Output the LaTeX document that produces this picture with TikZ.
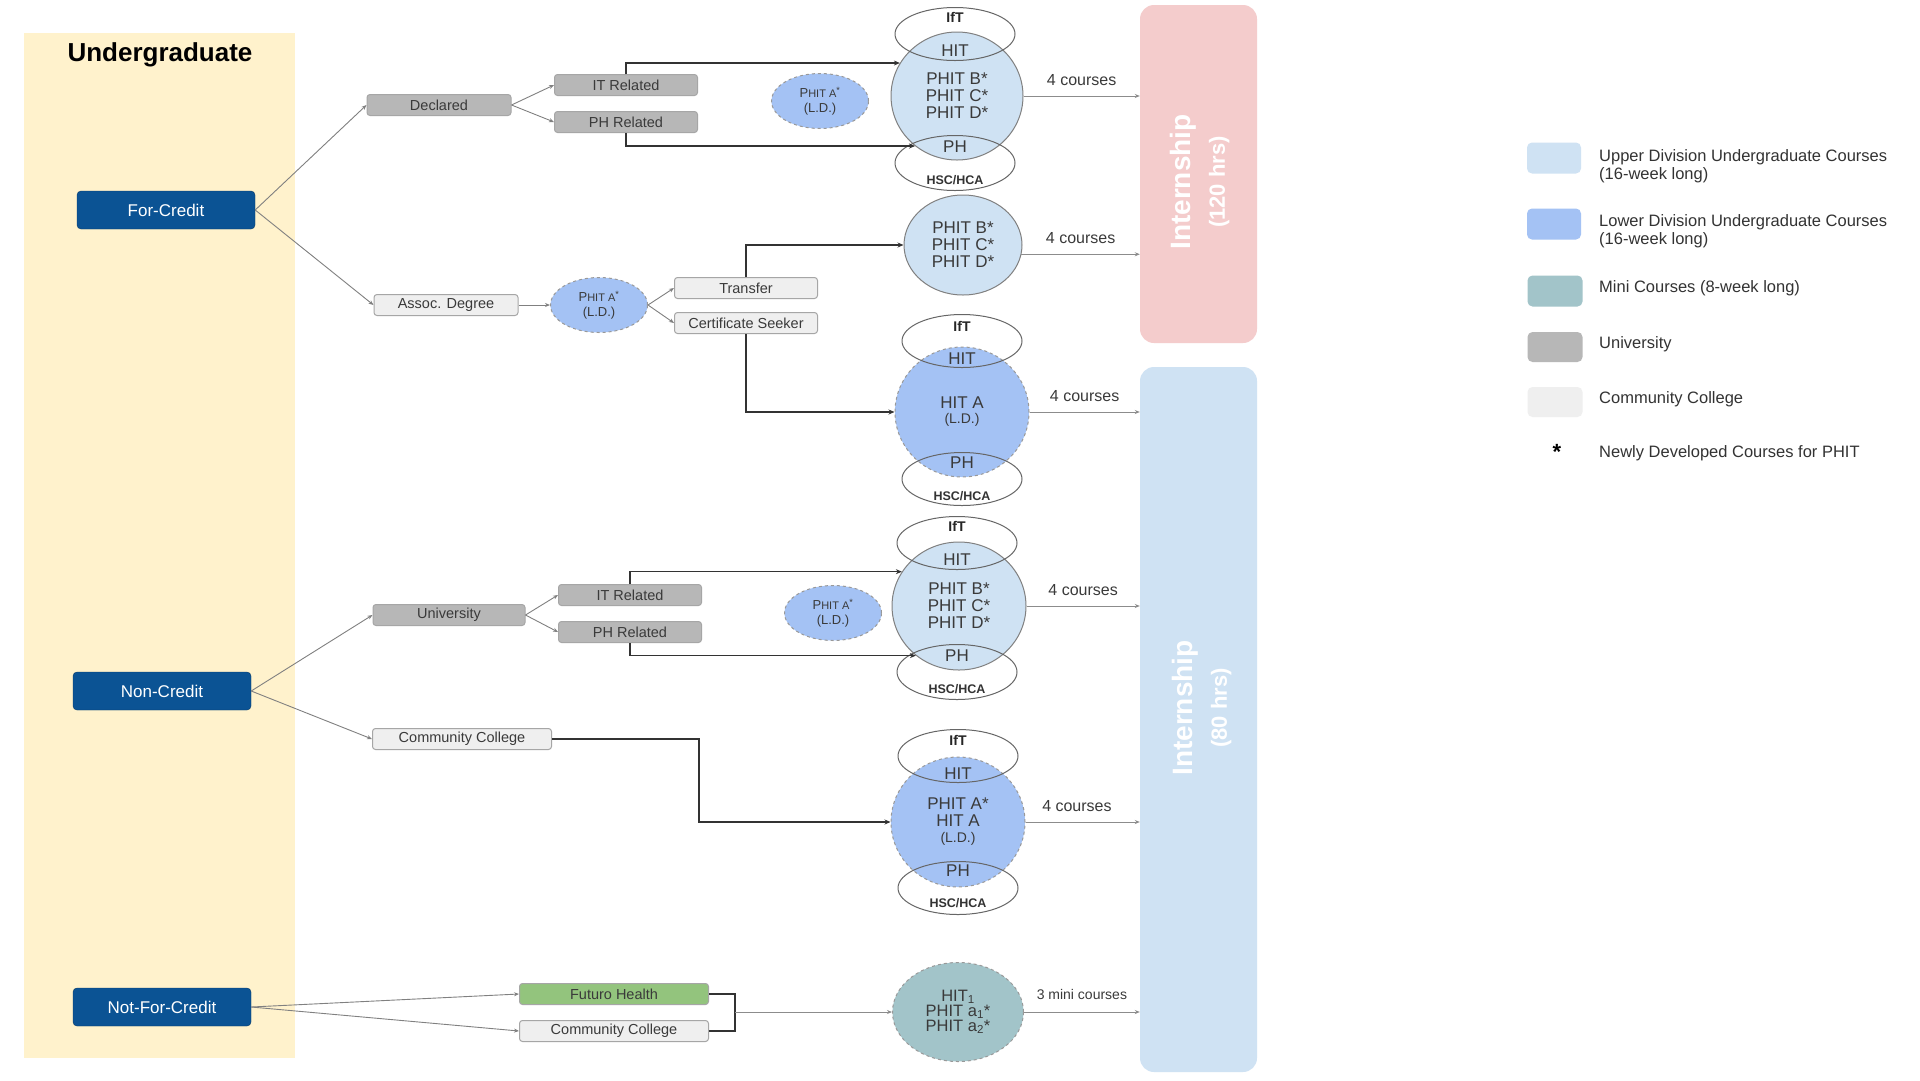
\documentclass[tikz,border=0pt]{standalone}
\usepackage{fontspec}
\setmainfont{Liberation Sans}
\usetikzlibrary{arrows.meta, shapes.geometric, positioning}

\definecolor{panelyellow}{HTML}{FFF2CC}
\definecolor{creditblue}{HTML}{0B5394}
\definecolor{unigray}{HTML}{B7B7B7}
\definecolor{ccgray}{HTML}{EFEFEF}
\definecolor{upperblue}{HTML}{CFE2F3}
\definecolor{lowerblue}{HTML}{A4C2F4}
\definecolor{miniteal}{HTML}{A2C4C9}
\definecolor{futurogreen}{HTML}{93C47D}
\definecolor{internpink}{HTML}{F4CCCC}
\definecolor{inktext}{HTML}{3A3A3A}

\newcommand{\pxfont}[1]{\fontsize{#1}{#1}\selectfont}

\tikzset{
  credit/.style={draw=creditblue!70!black, fill=creditblue, rounded corners=4pt, text=white,
    minimum width=178pt, minimum height=38pt, font=\pxfont{17}},
  track/.style={draw=black!35, line width=1pt, rounded corners=3pt, text=inktext,
    minimum height=21pt, font=\pxfont{14.5}},
  unibox/.style={track, fill=unigray},
  ccbox/.style={track, fill=ccgray},
  upper/.style={ellipse, draw=black!50, line width=1pt, fill=upperblue, text=inktext,
    align=center, font=\fontsize{17}{17}\selectfont},
  lower/.style={ellipse, draw=black!40, dashed, line width=1pt, fill=lowerblue, text=inktext,
    align=center, font=\fontsize{17}{17}\selectfont},
  smalla/.style={lower, minimum width=97pt, minimum height=55pt, font=\fontsize{13}{15}\selectfont},
  ring/.style={ellipse, draw=black!60, line width=1pt, minimum width=120pt, minimum height=53pt},
  ringtag/.style={font=\bfseries\pxfont{14}, text=black!85},
  hsctag/.style={font=\bfseries\pxfont{12.5}, text=black!80},
  lens/.style={font=\pxfont{17}, text=inktext},
  count/.style={font=\pxfont{16}, text=inktext},
  link/.style={draw=black!50, line width=0.9pt, -{Stealth[length=5pt, width=4pt]}},
  elbow/.style={draw=black!80, line width=1.6pt, -{Stealth[length=6pt, width=5pt]}},
  feed/.style={draw=black!45, line width=1pt, -{Stealth[length=5pt, width=4pt]}},
  intern/.style={rounded corners=14pt, minimum width=117pt},
  interntext/.style={rotate=90, text=white, align=center, font=\bfseries\fontsize{28}{34}\selectfont},
  swatch/.style={rounded corners=5pt, minimum width=54pt, minimum height=31pt},
  keytext/.style={anchor=west, align=left, text=black!80, font=\fontsize{16.5}{17.5}\selectfont}
}

\begin{document}
\begin{tikzpicture}[x=1pt, y=-1pt, inner sep=0pt]

		\useasboundingbox (0,0) rectangle (1920,1080);
		\fill[white] (0,0) rectangle (1920,1080);

		% Draw the background panel and the internship blocks
		\fill[panelyellow] (24,33) rectangle (295,1058);
		\node[intern, fill=internpink, minimum height=338pt] (i120) at (1198.5,174) {};
		\node[intern, fill=upperblue, minimum height=705pt] (i80) at (1198.5,719.5) {};
		\node[interntext] (i120t) at (1200,182) {Internship\\{\fontsize{22}{34}\selectfont(120 hrs)}};
		\node[interntext] (i80t) at (1202,708) {Internship\\{\fontsize{22}{34}\selectfont(80 hrs)}};

		% Draw the three entry tracks
		\node[font=\bfseries\pxfont{26}] (ug) at (160,55) {Undergraduate};
		\node[credit] (fc) at (166,210) {For-Credit};
		\node[credit] (nc) at (162,691) {Non-Credit};
		\node[credit] (nfc) at (162,1007) {Not-For-Credit};

		% For-Credit branch
		\node[unibox, minimum width=144pt] (decl) at (439,105) {Declared};
		\node[unibox, minimum width=143pt] (itr1) at (626,85) {IT Related};
		\node[unibox, minimum width=143pt] (phr1) at (626,122) {PH Related};
		\node[smalla] (pa1) at (820,101) {P{\pxfont{11}HIT A}\textsuperscript{*}\\(L.D.)};
		\node[ccbox, minimum width=144pt] (ad) at (446,305) {Assoc. Degree};
		\node[smalla] (pa2) at (599,305) {P{\pxfont{11}HIT A}\textsuperscript{*}\\(L.D.)};
		\node[ccbox, minimum width=143pt] (tr) at (746,288) {Transfer};
		\node[ccbox, minimum width=143pt] (cs) at (746,323) {Certificate Seeker};

		% Non-Credit branch
		\node[unibox, minimum width=152pt] (uni) at (449,615) {University};
		\node[unibox, minimum width=143pt] (itr4) at (630,595) {IT Related};
		\node[unibox, minimum width=143pt] (phr4) at (630,632) {PH Related};
		\node[smalla] (pa4) at (833,613) {P{\pxfont{11}HIT A}\textsuperscript{*}\\(L.D.)};
		\node[ccbox, minimum width=179pt] (cc2) at (462,739) {Community College};

		% Not-For-Credit branch
		\node[track, fill=futurogreen, minimum width=189pt] (fh) at (614,994) {Futuro Health};
		\node[ccbox, minimum width=189pt] (cc3) at (614,1031) {Community College};

		% Draw the course circles
		\node[upper, minimum width=132pt, minimum height=128pt] (c1) at (957,96) {PHIT B*\\PHIT C*\\PHIT D*};
		\node[upper, minimum width=118pt, minimum height=100pt] (c2) at (963,245) {PHIT B*\\PHIT C*\\PHIT D*};
		\node[lower, minimum width=134pt, minimum height=130pt, font=\fontsize{17}{15}\selectfont] (c3) at (962,412) {HIT A\\{\pxfont{14}(L.D.)}};
		\node[upper, minimum width=134pt, minimum height=128pt] (c4) at (959,606) {PHIT B*\\PHIT C*\\PHIT D*};
		\node[lower, minimum width=134pt, minimum height=130pt, font=\fontsize{17}{16.5}\selectfont] (c5) at (958,822) {PHIT A*\\HIT A\\{\pxfont{14}(L.D.)}};
		\node[lower, fill=miniteal, minimum width=131pt, minimum height=99pt, font=\fontsize{16.5}{15}\selectfont] (mini) at (958,1012) {HIT\textsubscript{1}\\PHIT a\textsubscript{1}*\\PHIT a\textsubscript{2}*};

		% Draw the IfT and HSC/HCA rings over the circles
		\node[ring] (r1a) at (955,34) {};
		\node[ring, minimum height=55pt] (r1b) at (955,163) {};
		\node[ring] (r3a) at (962,341) {};
		\node[ring] (r3b) at (962,479) {};
		\node[ring] (r4a) at (957,543) {};
		\node[ring, minimum height=55pt] (r4b) at (957,672) {};
		\node[ring] (r5a) at (958,756) {};
		\node[ring] (r5b) at (958,888) {};

		\node[ringtag] (t1a) at (955,17) {IfT};
		\node[lens] (l1a) at (955,51) {HIT};
		\node[lens] (l1b) at (955,147) {PH};
		\node[hsctag] (t1b) at (955,180) {HSC/HCA};
		\node[ringtag] (t3a) at (962,326) {IfT};
		\node[lens] (l3a) at (962,359) {HIT};
		\node[lens] (l3b) at (962,463) {PH};
		\node[hsctag] (t3b) at (962,496) {HSC/HCA};
		\node[ringtag] (t4a) at (957,526) {IfT};
		\node[lens] (l4a) at (957,560) {HIT};
		\node[lens] (l4b) at (957,656) {PH};
		\node[hsctag] (t4b) at (957,689) {HSC/HCA};
		\node[ringtag] (t5a) at (958,740) {IfT};
		\node[lens] (l5a) at (958,774) {HIT};
		\node[lens] (l5b) at (958,871) {PH};
		\node[hsctag] (t5b) at (958,903) {HSC/HCA};

		% Draw the branches out of each track
		\draw[link] (fc.east) -- (decl.west);
		\draw[link] (fc.east) -- (ad.west);
		\draw[link] (decl.east) -- (itr1.west);
		\draw[link] (decl.east) -- (phr1.west);
		\draw[link] (ad.east) -- (pa2.west);
		\draw[link] (pa2.east) -- (tr.west);
		\draw[link] (pa2.east) -- (cs.west);
		\draw[link] (nc.east) -- (uni.west);
		\draw[link] (nc.east) -- (cc2.west);
		\draw[link] (uni.east) -- (itr4.west);
		\draw[link] (uni.east) -- (phr4.west);
		\draw[link] (nfc.east) -- (fh.west);
		\draw[link] (nfc.east) -- (cc3.west);

		% Draw the elbow connectors into the circles
		\draw[elbow] (itr1.north) |- (c1.150);
		\draw[elbow] (phr1.south) |- (c1.230);
		\draw[elbow] (tr.north) |- (c2.west);
		\draw[elbow] (cs.south) |- (c3.west);
		\draw[elbow] (itr4.north) |- (c4.149);
		\draw[elbow] (phr4.south) |- (c4.229);
		\coordinate (ccturn) at (699,780);
		\draw[elbow] (cc2.east) -| (ccturn) |- (c5.west);
		\coordinate (fork) at (735,1012);
		\draw[elbow, -] (fh.east) -| (fork) |- (cc3.east);
		\draw[feed] (fork) -- (mini.west);

		% Draw the arrows into the internship blocks
		\draw[feed] (c1) -- (c1 -| i120.west) node[count, midway, above=10pt] (n1) {4 courses};
		\draw[feed] (c2.351) -- (c2.351 -| i120.west) node[count, midway, above=10pt] (n2) {4 courses};
		\draw[feed] (c3) -- (c3 -| i80.west) node[count, midway, above=10pt] (n3) {4 courses};
		\draw[feed] (c4) -- (c4 -| i80.west) node[count, midway, above=10pt] (n4) {4 courses};
		\draw[feed] (c5) -- (c5 -| i80.west) node[count, pos=0.45, above=10pt] (n5) {4 courses};
		\draw[feed] (mini) -- (mini -| i80.west) node[count, font=\pxfont{14}, midway, above=12pt] (n6) {3 mini courses};

		% Draw the legend
		\node[swatch, fill=upperblue] (k1) at (1554,158) {};
		\node[swatch, fill=lowerblue] (k2) at (1554,224) {};
		\node[swatch, fill=miniteal, minimum width=55pt] (k3) at (1555,291) {};
		\node[swatch, fill=unigray, minimum width=55pt, minimum height=30pt] (k4) at (1555,347) {};
		\node[swatch, fill=ccgray, minimum width=55pt, minimum height=30pt] (k5) at (1555,402) {};
		\node[font=\bfseries\pxfont{22}] (k6) at (1557,452) {*};
		\node[keytext] (k1t) at (1599,166) {Upper Division Undergraduate Courses\\(16-week long)};
		\node[keytext] (k2t) at (1599,231) {Lower Division Undergraduate Courses\\(16-week long)};
		\node[keytext] (k3t) at (1599,288) {Mini Courses (8-week long)};
		\node[keytext] (k4t) at (1599,344) {University};
		\node[keytext] (k5t) at (1599,399) {Community College};
		\node[keytext] (k6t) at (1599,453) {Newly Developed Courses for PHIT};

	\end{tikzpicture}
\end{document}
